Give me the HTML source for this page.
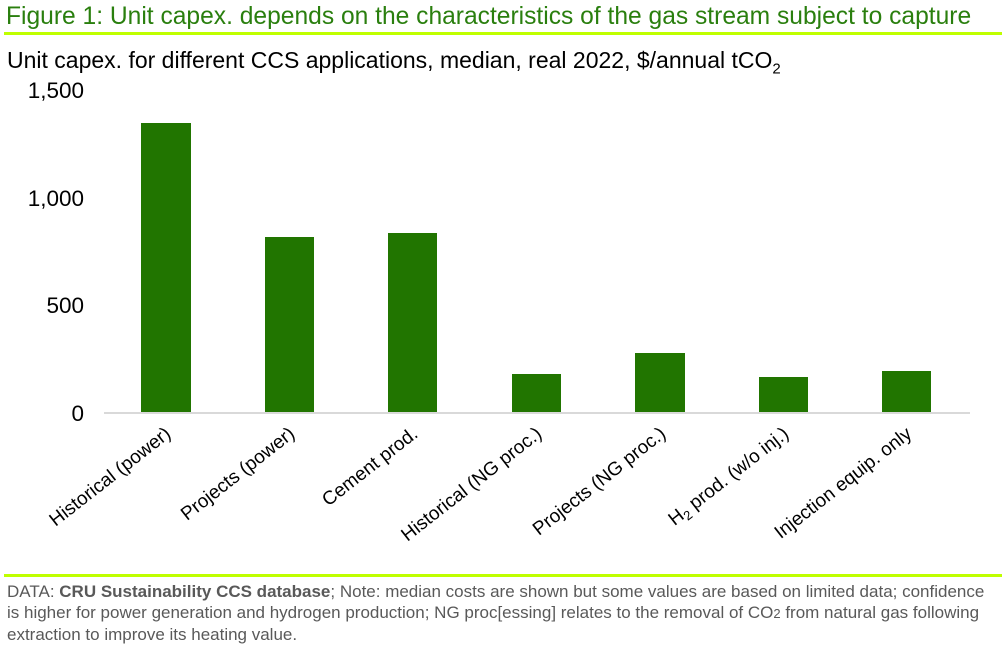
<!DOCTYPE html>
<html><head><meta charset="utf-8"><style>
body{margin:0;width:1006px;height:646px;background:#fff;overflow:hidden;font-family:"Liberation Sans",sans-serif;position:relative}
.t{position:absolute;left:6px;top:3px;font-size:24.6px;color:#2a7f0e;white-space:nowrap}
.l{position:absolute;left:4px;width:998px;height:3px;background:#bfff00}
.s{position:absolute;left:7px;top:47px;font-size:23px;color:#000;white-space:nowrap}
.f{position:absolute;left:7px;top:581px;font-size:17px;line-height:21px;color:#595959;width:994px;white-space:nowrap}
</style></head><body>
<div class="t">Figure 1: Unit capex. depends on the characteristics of the gas stream subject to capture</div>
<div class="l" style="top:32px"></div>
<div class="s">Unit capex. for different CCS applications, median, real 2022, $/annual tCO<sub style="font-size:15px">2</sub></div>
<svg style="position:absolute;left:0;top:0" width="1006" height="646" font-family="Liberation Sans, sans-serif">
<g font-size="22.5" text-anchor="end" fill="#000">
<text x="84" y="98">1,500</text><text x="84" y="206">1,000</text><text x="84" y="313">500</text><text x="84" y="421">0</text>
</g>
<line x1="104" y1="413" x2="970" y2="413" stroke="#d9d9d9" stroke-width="2"/>
<g fill="#217500">
<rect x="141" y="123" width="50" height="289"/>
<rect x="265" y="237" width="49" height="175"/>
<rect x="388" y="233" width="49" height="179"/>
<rect x="512" y="374" width="49" height="38"/>
<rect x="635" y="353" width="50" height="59"/>
<rect x="759" y="377" width="49" height="35"/>
<rect x="882" y="371" width="49" height="41"/>
</g>
<g font-size="19" text-anchor="end" fill="#000">
<text transform="translate(172,436) rotate(-38)">Historical (power)</text>
<text transform="translate(296,436) rotate(-38)">Projects (power)</text>
<text transform="translate(419,436) rotate(-38)">Cement prod.</text>
<text transform="translate(543,436) rotate(-38)">Historical (NG proc.)</text>
<text transform="translate(667,436) rotate(-38)">Projects (NG proc.)</text>
<text transform="translate(790,436) rotate(-38)">H<tspan font-size="13" dy="4">2</tspan><tspan dy="-4"> prod. (w/o inj.)</tspan></text>
<text transform="translate(913,436) rotate(-38)">Injection equip. only</text>
</g>
</svg>
<div class="l" style="top:574px"></div>
<div class="f">DATA: <b>CRU Sustainability CCS database</b>; Note: median costs are shown but some values are based on limited data; confidence<br>is higher for power generation and hydrogen production; NG proc[essing] relates to the removal of CO<span style="font-size:13px">2</span> from natural gas following<br>extraction to improve its heating value.</div>
</body></html>
